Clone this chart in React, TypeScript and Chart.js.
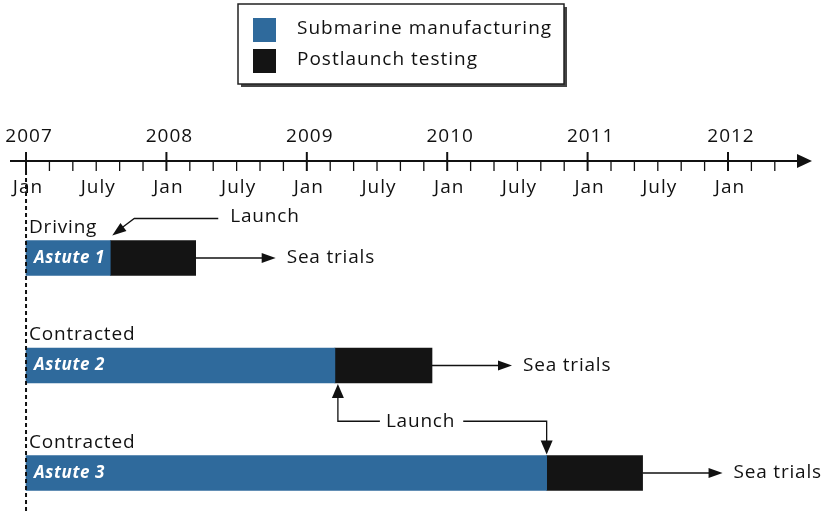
import React, { useEffect, useRef } from 'react';
import { Chart, registerables } from 'chart.js';

Chart.register(...registerables);

// Data: months counted from January 2007
const ships = ['Astute 1', 'Astute 2', 'Astute 3'];
const milestoneLabels = ['Driving', 'Contracted', 'Contracted'];
const buildStart = [0, 0, 0];
const launchMonth = [7.2, 26.4, 44.5];
const trialsEndMonth = [14.5, 34.7, 52.7];
const seriesNames = ['Submarine manufacturing', 'Postlaunch testing'];
const seriesColors = ['#2f6a9c', '#141414'];
const yearLabels = ['2007', '2008', '2009', '2010', '2011', '2012'];
const halfYearLabels = ['Jan', 'July'];
const lastTickMonth = 64;
const annotationLaunch = 'Launch';
const annotationTrials = 'Sea trials';

const FONT = '"Open Sans", "Noto Sans", sans-serif';

function arrowHead(ctx: CanvasRenderingContext2D, tx: number, ty: number, dx: number, dy: number, len = 13, half = 5) {
  const n = Math.hypot(dx, dy) || 1;
  const ux = dx / n, uy = dy / n;
  const bx = tx - ux * len, by = ty - uy * len;
  ctx.beginPath();
  ctx.moveTo(tx, ty);
  ctx.lineTo(bx - uy * half, by + ux * half);
  ctx.lineTo(bx + uy * half, by - ux * half);
  ctx.closePath();
  ctx.fill();
}

const decorPlugin = {
  id: 'decor',
  afterDraw(chart: any) {
    const ctx: CanvasRenderingContext2D = chart.ctx;
    const xs = chart.scales.x;
    const area = chart.chartArea;
    const X = (m: number) => xs.getPixelForValue(m);
    ctx.save();
    ctx.fillStyle = '#111';
    ctx.strokeStyle = '#111';

    // ---- Legend ----
    const lx = 238, ly = 4, lw = 326, lh = 80;
    ctx.fillStyle = '#444';
    ctx.fillRect(lx + 3, ly + 3, lw, lh);
    ctx.fillStyle = '#fff';
    ctx.fillRect(lx, ly, lw, lh);
    ctx.lineWidth = 1.5;
    ctx.strokeStyle = '#222';
    ctx.strokeRect(lx, ly, lw, lh);
    ctx.font = `19px ${FONT}`;
    ctx.textBaseline = 'middle';
    ctx.textAlign = 'left';
    (ctx as any).letterSpacing = '1px';
    seriesNames.forEach((name, i) => {
      const y = 18 + i * 31;
      ctx.fillStyle = seriesColors[i];
      ctx.fillRect(253, y, 23, 24);
      ctx.fillStyle = '#111';
      ctx.fillText(name, 297, y + 11);
    });

    // ---- Timeline axis ----
    const axisY = 161;
    const x0 = area.left, x1 = area.right;
    ctx.strokeStyle = '#111';
    ctx.fillStyle = '#111';
    ctx.lineWidth = 2.2;
    ctx.beginPath();
    ctx.moveTo(x0, axisY);
    ctx.lineTo(x1 - 12, axisY);
    ctx.stroke();
    arrowHead(ctx, x1, axisY, 1, 0, 15, 7);

    for (let m = 0; m <= lastTickMonth; m += 2) {
      const px = X(m);
      const major = m % 12 === 0;
      ctx.lineWidth = major ? 2 : 1.3;
      ctx.beginPath();
      ctx.moveTo(px, major ? axisY - 9 : axisY);
      ctx.lineTo(px, axisY + 10);
      ctx.stroke();
    }
    ctx.textAlign = 'center';
    ctx.font = `19px ${FONT}`;
    (ctx as any).letterSpacing = '1px';
    yearLabels.forEach((lab, i) => {
      ctx.fillText(lab, X(i * 12) + 3, 137);
    });
    for (let m = 0; m <= 60; m += 6) {
      ctx.fillText(halfYearLabels[(m / 6) % 2], X(m) + 2, 188);
    }

    // ---- dashed start line ----
    ctx.lineWidth = 2;
    ctx.setLineDash([4, 3]);
    ctx.beginPath();
    ctx.moveTo(X(0), 171);
    ctx.lineTo(X(0), chart.height);
    ctx.stroke();
    ctx.setLineDash([]);

    // ---- per-bar labels ----
    const meta0 = chart.getDatasetMeta(0);
    const meta1 = chart.getDatasetMeta(1);
    const rows = ships.map((_, i) => {
      const el = meta0.data[i];
      const h = el.height;
      return { cy: el.y, top: el.y - h / 2, bottom: el.y + h / 2, launch: el.x, end: meta1.data[i].x };
    });

    rows.forEach((r, i) => {
      // name inside bar
      ctx.font = `italic bold 17px ${FONT}`;
      (ctx as any).letterSpacing = '0.6px';
      ctx.textAlign = 'left';
      ctx.fillStyle = '#fff';
      ctx.fillText(ships[i], X(0) + 8, r.cy);
      // milestone above
      ctx.font = `19px ${FONT}`;
      (ctx as any).letterSpacing = '0.8px';
      ctx.fillStyle = '#111';
      ctx.fillText(milestoneLabels[i], X(0) + 3, r.top - 13);
      // sea trials arrow
      ctx.lineWidth = 1.3;
      ctx.beginPath();
      ctx.moveTo(r.end, r.cy);
      ctx.lineTo(r.end + 72, r.cy);
      ctx.stroke();
      arrowHead(ctx, r.end + 80, r.cy, 1, 0, 14, 5);
      ctx.fillText(annotationTrials, r.end + 91, r.cy);
    });

    // ---- Launch annotation for first ship ----
    const r0 = rows[0];
    ctx.lineWidth = 1.3;
    ctx.beginPath();
    ctx.moveTo(r0.launch + 108, r0.top - 22);
    ctx.lineTo(r0.launch + 24, r0.top - 22);
    ctx.lineTo(r0.launch + 8, r0.top - 10);
    ctx.stroke();
    arrowHead(ctx, r0.launch + 2, r0.top - 5, -1, 0.75, 14, 5);
    ctx.fillText(annotationLaunch, r0.launch + 120, r0.top - 24);

    // ---- Launch bracket for ships 2 and 3 ----
    const r1 = rows[1], r2 = rows[2];
    const by = (r1.bottom + r2.top) / 2 + 2;
    const ax = r1.launch + 3;
    const bx = r2.launch;
    ctx.beginPath();
    ctx.moveTo(ax, r1.bottom + 12);
    ctx.lineTo(ax, by);
    ctx.lineTo(ax + 42, by);
    ctx.stroke();
    arrowHead(ctx, ax, r1.bottom + 1, 0, -1, 14, 6);
    ctx.fillText(annotationLaunch, ax + 48, by);
    const tw = ctx.measureText(annotationLaunch).width;
    ctx.beginPath();
    ctx.moveTo(ax + 48 + tw + 8, by);
    ctx.lineTo(bx, by);
    ctx.lineTo(bx, r2.top - 12);
    ctx.stroke();
    arrowHead(ctx, bx, r2.top - 1, 0, 1, 14, 6);

    ctx.restore();
  },
};

export default function App() {
  const ref = useRef<HTMLCanvasElement | null>(null);
  useEffect(() => {
    if (!ref.current) return;
    const chart = new Chart(ref.current, {
      type: 'bar',
      data: {
        labels: ships,
        datasets: [
          {
            label: seriesNames[0],
            data: ships.map((_, i) => [buildStart[i], launchMonth[i]]) as any,
            backgroundColor: seriesColors[0],
            grouped: false,
            barThickness: 35,
            clip: false,
          } as any,
          {
            label: seriesNames[1],
            data: ships.map((_, i) => [launchMonth[i], trialsEndMonth[i]]) as any,
            backgroundColor: seriesColors[1],
            grouped: false,
            barThickness: 35,
            clip: false,
          } as any,
        ],
      },
      options: {
        indexAxis: 'y',
        responsive: false,
        maintainAspectRatio: false,
        animation: false,
        layout: { padding: { left: 10, right: 15, top: 258, bottom: 39 } },
        scales: {
          x: { type: 'linear', min: -1.37, max: 67.18, display: false },
          y: { type: 'category', offset: false, display: false, grid: { display: false } },
        },
        plugins: {
          legend: { display: false },
          tooltip: { enabled: false },
          title: { display: false },
        },
      },
      plugins: [decorPlugin],
    });
    return () => chart.destroy();
  }, []);
  return (
    <div style={{ position: 'fixed', left: 0, top: 0, width: 827, height: 512, background: '#fff' }}>
      <canvas ref={ref} width={827} height={512} style={{ display: 'block' }} />
    </div>
  );
}
